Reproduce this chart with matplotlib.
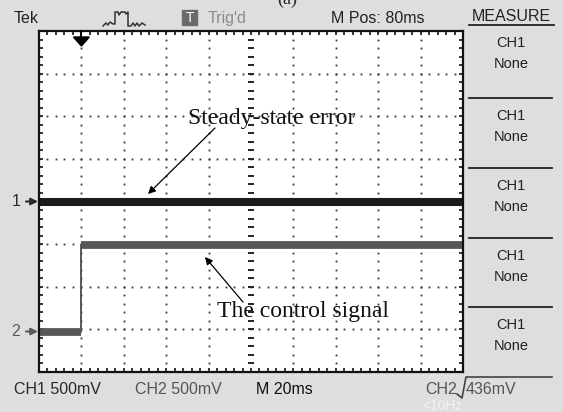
import numpy as np
import matplotlib.pyplot as plt
from matplotlib.patches import Rectangle, Polygon

# scope settings
volts_per_div = 0.5      # CH1 and CH2 500mV
ms_per_div = 20          # M 20ms
n_xdiv, n_ydiv = 10, 8

# channel ground positions (divisions from screen centre)
ch1_pos = 0.0
ch2_pos = -3.05

# CH1: steady-state error stays at zero
ch1_t = [0, 200]
ch1_v = [0.0, 0.0]

# CH2: control signal, step at the trigger (20 ms)
ch2_t = [0, 20, 20, 200]
ch2_v = [0.0, 0.0, 1.02, 1.02]

trig_t = 20

measure_labels = ['CH1', 'CH1', 'CH1', 'CH1', 'CH1']
measure_values = ['None', 'None', 'None', 'None', 'None']

W, H = 563, 412
fig = plt.figure(figsize=(W / 100, H / 100), dpi=100)
fig.patch.set_facecolor('#dedede')

ui = 'Liberation Sans'
serif = 'Liberation Serif'

# pixel overlay for the scope chrome
bg = fig.add_axes([0, 0, 1, 1])
bg.set_xlim(0, W)
bg.set_ylim(H, 0)
bg.axis('off')

# screen
L, T, R, B = 39, 31, 463, 372
scr = fig.add_axes([L / W, (H - B) / H, (R - L) / W, (B - T) / H])
xmax = n_xdiv * ms_per_div
scr.set_xlim(0, xmax)
scr.set_ylim(-n_ydiv / 2, n_ydiv / 2)
scr.set_facecolor('white')
scr.set_xticks([])
scr.set_yticks([])
for s in scr.spines.values():
    s.set_linewidth(1.6)
    s.set_color('#111111')
scr.set_zorder(2)

# dotted graticule
sub_x = np.arange(0, xmax + 0.01, ms_per_div / 5)
sub_y = np.arange(-n_ydiv / 2, n_ydiv / 2 + 0.01, 0.2)
for k in range(1, n_xdiv):
    if k == n_xdiv // 2:
        continue
    scr.plot(np.full_like(sub_y, k * ms_per_div), sub_y, ls='none', marker='s',
             ms=1.3, mec='none', mfc='#333333')
for k in range(-n_ydiv // 2 + 1, n_ydiv // 2):
    if k == 0:
        continue
    scr.plot(sub_x, np.full_like(sub_x, k), ls='none', marker='s',
             ms=1.3, mec='none', mfc='#333333')

# centre lines with small dashes
scr.plot(np.full_like(sub_y, xmax / 2), sub_y, ls='none', marker='_', ms=4,
         mew=1.4, color='#222222')
scr.plot(sub_x, np.zeros_like(sub_x), ls='none', marker='|', ms=4,
         mew=1.4, color='#222222')

# border ticks
scr.plot(sub_x, np.full_like(sub_x, n_ydiv / 2), ls='none', marker='|', ms=6,
         mew=1.2, color='#111111')
scr.plot(sub_x, np.full_like(sub_x, -n_ydiv / 2), ls='none', marker='|', ms=6,
         mew=1.2, color='#111111')
scr.plot(np.zeros_like(sub_y), sub_y, ls='none', marker='_', ms=6,
         mew=1.2, color='#111111')
scr.plot(np.full_like(sub_y, xmax), sub_y, ls='none', marker='_', ms=6,
         mew=1.2, color='#111111')

# traces
c1 = '#1b1b1b'
c2 = '#575757'
ch1_y = ch1_pos + np.array(ch1_v) / volts_per_div
ch2_y = ch2_pos + np.array(ch2_v) / volts_per_div
scr.plot(ch1_t, ch1_y, color=c1, lw=5.8, solid_capstyle='butt')
scr.plot(ch2_t, ch2_y, color=c2, lw=1.4)
for i in range(len(ch2_t) - 1):
    if ch2_v[i] == ch2_v[i + 1]:
        scr.plot(ch2_t[i:i + 2], ch2_y[i:i + 2], color=c2, lw=5.6,
                 solid_capstyle='butt')

# trigger position marker
tx = L + (R - L) * trig_t / xmax
bg.plot([tx, tx], [T, 38], color='black', lw=1.5, zorder=5)
bg.add_patch(Polygon([[tx - 8, 37], [tx + 8, 37], [tx, 46]], closed=True,
                     color='black', zorder=5))

# channel ground markers
def ypix(div):
    return (T + B) / 2 - div * (B - T) / n_ydiv

for lab, pos, col in [('1', ch1_pos, '#2a2a2a'), ('2', ch2_pos, '#5a5a5a')]:
    yp = ypix(pos)
    bg.text(16, yp, lab, family=ui, fontsize=11.5, color=col, ha='center', va='center')
    bg.annotate('', xy=(38, yp), xytext=(26, yp),
                arrowprops=dict(arrowstyle='-|>', color=col, lw=1.5,
                                mutation_scale=10, shrinkA=0, shrinkB=0))

# annotations
bg.annotate('', xy=(148, 194), xytext=(215, 128),
            arrowprops=dict(arrowstyle='-|>', color='black', lw=0.9,
                            mutation_scale=11, shrinkA=0, shrinkB=0), zorder=6)
bg.text(272, 118, 'Steady-state error', family=serif, fontsize=17,
        ha='center', va='center', color='#111111', zorder=6)
bg.annotate('', xy=(205, 257), xytext=(243, 302),
            arrowprops=dict(arrowstyle='-|>', color='black', lw=0.9,
                            mutation_scale=11, shrinkA=0, shrinkB=0), zorder=6)
bg.text(303, 311, 'The control signal', family=serif, fontsize=17,
        ha='center', va='center', color='#111111', zorder=6)
bg.set_zorder(3)

# header
bg.text(14, 18, 'Tek', family=ui, fontsize=11.5, color='#222222', va='center')
icon = [(103, 26), (106, 23), (108, 25), (110, 22), (113, 24), (115, 24),
        (115, 12), (118, 12), (119, 15), (121, 12), (125, 12), (126, 14),
        (128, 12), (128, 26), (131, 26), (133, 23), (135, 26), (137, 23),
        (139, 26), (142, 23), (145, 25)]
bg.plot([p[0] for p in icon], [p[1] for p in icon], color='#333333', lw=1.1)
bg.add_patch(Rectangle((182, 10), 15, 15, color='#6a6a6a'))
bg.text(189.5, 17.5, 'T', family=ui, fontsize=10, color='white', ha='center',
        va='center')
bg.text(208, 18, "Trig'd", family=ui, fontsize=11.5, color='#8a8a8a', va='center')
bg.text(331, 18, 'M Pos: 80ms', family=ui, fontsize=11.5, color='#222222',
        va='center')
bg.text(511, 16, 'MEASURE', family=ui, fontsize=11.5, color='#222222',
        ha='center', va='center')
bg.plot([469, 554], [25, 25], color='#222222', lw=1.3)
bg.text(287, 4, '(a)', family=serif, fontsize=13, ha='center', va='baseline',
        color='#222222')

# measure panel
tops = [25, 98, 168, 238, 307]
for top, lab, val in zip(tops, measure_labels, measure_values):
    if top != tops[0]:
        bg.plot([469, 552], [top, top], color='#222222', lw=1.3)
    bg.text(511, top + 18, lab, family=ui, fontsize=10.5, color='#222222',
            ha='center', va='center')
    bg.text(511, top + 39, val, family=ui, fontsize=10.5, color='#222222',
            ha='center', va='center')

# footer
bg.text(14, 390, 'CH1 500mV', family=ui, fontsize=11.5, color='#2a2a2a', va='center')
bg.text(135, 390, 'CH2 500mV', family=ui, fontsize=11.5, color='#555555', va='center')
bg.text(256, 390, 'M 20ms', family=ui, fontsize=11.5, color='#111111', va='center')
bg.text(457, 390, 'CH2', family=ui, fontsize=11.5, color='#555555', va='center',
        ha='right')
bg.plot([457, 462, 466, 552], [394, 398, 377, 377], color='#444444', lw=1.2)
bg.text(466, 390, '436mV', family=ui, fontsize=11.5, color='#555555', va='center')
bg.text(422, 406, '<10Hz', family=ui, fontsize=10, color='#f2f2f2', va='center')

fig.savefig('out.png', dpi=100, facecolor=fig.get_facecolor())
